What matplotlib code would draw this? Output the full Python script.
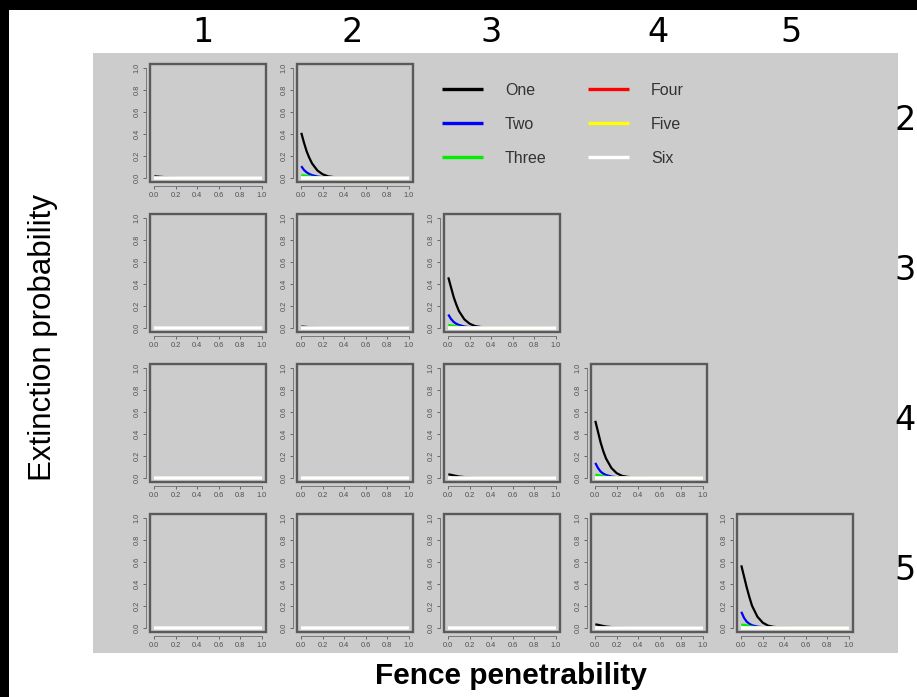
import matplotlib
matplotlib.use('Agg')
import matplotlib.pyplot as plt
from matplotlib.patches import Rectangle

plt.rcParams['font.family'] = ['Liberation Sans', 'DejaVu Sans']

W, H = 917, 697

# fence penetrability values where curves were read
pen = [0.0, 0.025, 0.05, 0.075, 0.1, 0.15, 0.2, 0.25, 0.3, 0.35, 0.4, 0.6, 0.8, 1.0]

fences = ['1', '2', '3', '4', '5']
corridors = ['2', '3', '4', '5']
series = ['One', 'Two', 'Three', 'Four', 'Five', 'Six']
colors = ['black', 'blue', '#00ee00', 'red', 'yellow', 'white']

zeros = [0, 0, 0, 0, 0, 0, 0, 0, 0, 0, 0, 0, 0, 0]

# corridor 2
one_f1c2 = [0.012, 0.01, 0.008, 0.006, 0.004, 0.002, 0.001, 0, 0, 0, 0, 0, 0, 0]
one_f2c2 = [0.41, 0.32, 0.24, 0.18, 0.13, 0.065, 0.03, 0.012, 0.005, 0.002, 0.001, 0, 0, 0]
two_f2c2 = [0.105, 0.07, 0.048, 0.033, 0.023, 0.01, 0.004, 0.001, 0, 0, 0, 0, 0, 0]
three_f2c2 = [0.022, 0.02, 0.017, 0.012, 0.007, 0.002, 0, 0, 0, 0, 0, 0, 0, 0]
# corridor 3
one_f2c3 = [0.01, 0.008, 0.006, 0.004, 0.003, 0.001, 0, 0, 0, 0, 0, 0, 0, 0]
one_f3c3 = [0.46, 0.37, 0.28, 0.21, 0.15, 0.075, 0.035, 0.014, 0.006, 0.002, 0.001, 0, 0, 0]
two_f3c3 = [0.12, 0.08, 0.052, 0.035, 0.024, 0.01, 0.004, 0.001, 0, 0, 0, 0, 0, 0]
three_f3c3 = [0.024, 0.021, 0.018, 0.012, 0.007, 0.002, 0, 0, 0, 0, 0, 0, 0, 0]
# corridor 4
one_f3c4 = [0.03, 0.026, 0.02, 0.015, 0.01, 0.005, 0.002, 0.001, 0, 0, 0, 0, 0, 0]
one_f4c4 = [0.52, 0.42, 0.32, 0.24, 0.175, 0.088, 0.04, 0.016, 0.007, 0.003, 0.001, 0, 0, 0]
two_f4c4 = [0.135, 0.088, 0.055, 0.036, 0.024, 0.01, 0.004, 0.001, 0, 0, 0, 0, 0, 0]
three_f4c4 = [0.026, 0.023, 0.019, 0.013, 0.008, 0.003, 0, 0, 0, 0, 0, 0, 0, 0]
# corridor 5
one_f4c5 = [0.03, 0.026, 0.02, 0.015, 0.01, 0.005, 0.002, 0.001, 0, 0, 0, 0, 0, 0]
one_f5c5 = [0.57, 0.47, 0.37, 0.28, 0.2, 0.1, 0.045, 0.018, 0.007, 0.003, 0.001, 0, 0, 0]
two_f5c5 = [0.145, 0.09, 0.055, 0.035, 0.022, 0.009, 0.003, 0.001, 0, 0, 0, 0, 0, 0]
three_f5c5 = [0.027, 0.025, 0.021, 0.015, 0.009, 0.003, 0, 0, 0, 0, 0, 0, 0, 0]

curves = {
    ('1', '2'): {'One': one_f1c2},
    ('2', '2'): {'One': one_f2c2, 'Two': two_f2c2, 'Three': three_f2c2},
    ('2', '3'): {'One': one_f2c3},
    ('3', '3'): {'One': one_f3c3, 'Two': two_f3c3, 'Three': three_f3c3},
    ('3', '4'): {'One': one_f3c4},
    ('4', '4'): {'One': one_f4c4, 'Two': two_f4c4, 'Three': three_f4c4},
    ('4', '5'): {'One': one_f4c5},
    ('5', '5'): {'One': one_f5c5, 'Two': two_f5c5, 'Three': three_f5c5},
}


def px_box(x, y, w, h):
    return [x / W, 1 - (y + h) / H, w / W, h / H]


fig = plt.figure(figsize=(W / 100, H / 100), dpi=100)
fig.patch.set_facecolor('white')

# grey panel behind the grid
fig.patches.append(Rectangle((93 / W, 1 - 653 / H), (898 - 93) / W, 600 / H,
                             transform=fig.transFigure, fc='#cccccc', ec='none', zorder=-1))
# black edges of the screenshot
fig.patches.append(Rectangle((0, 1 - 10 / H), 1, 10 / H, transform=fig.transFigure,
                             fc='black', ec='none', zorder=10))
fig.patches.append(Rectangle((0, 0), 9 / W, 1, transform=fig.transFigure,
                             fc='black', ec='none', zorder=10))

col_left = [150, 297, 444, 591, 737]
row_top = [64, 214, 364, 514]
ticks = [0.0, 0.2, 0.4, 0.6, 0.8, 1.0]
tick_labels = ['0.0', '0.2', '0.4', '0.6', '0.8', '1.0']

legend_lines = None
for i, c in enumerate(corridors):
    for j, f in enumerate(fences):
        if int(f) > int(c):
            continue
        ax = fig.add_axes(px_box(col_left[j], row_top[i], 116, 118))
        ax.patch.set_visible(False)
        lines = []
        for k, (s, col) in enumerate(zip(series, colors)):
            y = curves.get((f, c), {}).get(s, zeros)
            if s == 'Six':
                ln, = ax.plot(pen, y, color=col, lw=2.6, zorder=3, solid_capstyle='butt')
            else:
                ln, = ax.plot(pen, y, color=col, lw=1.6, zorder=2 + 0.1 * k,
                              solid_capstyle='butt')
            lines.append(ln)
        if (f, c) == ('2', '2'):
            legend_lines = lines
        ax.set_xlim(-0.04, 1.04)
        ax.set_ylim(-0.04, 1.04)
        for side in ['top', 'right']:
            ax.spines[side].set_visible(False)
        for side in ['left', 'bottom']:
            ax.spines[side].set_position(('outward', 3))
            ax.spines[side].set_bounds(0, 1)
            ax.spines[side].set_color('#777777')
            ax.spines[side].set_linewidth(0.7)
        ax.add_patch(Rectangle((0, 0), 1, 1, transform=ax.transAxes, fill=False,
                               ec='#5a5a5a', lw=1.7, clip_on=False, zorder=5))
        ax.set_xticks(ticks)
        ax.set_xticklabels(tick_labels)
        ax.set_yticks(ticks)
        ax.set_yticklabels(tick_labels, rotation=90, va='center')
        ax.tick_params(length=2.5, width=0.7, color='#666666', labelsize=5.3,
                       labelcolor='#505050', pad=1.5)

leg = fig.legend(legend_lines, series, loc='upper left',
                 bbox_to_anchor=(442 / W, 1 - 83 / H), ncol=2, frameon=False,
                 fontsize=11.5, handlelength=2.56, handletextpad=1.375,
                 columnspacing=2.6, labelspacing=1.18, borderpad=0, borderaxespad=0)
for t in leg.get_texts():
    t.set_color('#333333')
for ln in leg.get_lines():
    ln.set_linewidth(2.4)

# column and row headers
head_x = [203, 352, 491, 658, 791]
for f, x in zip(fences, head_x):
    fig.text(x / W, 1 - 33 / H, f, fontsize=24, ha='center', va='center',
             family=['Liberation Sans Narrow', 'DejaVu Sans'])
for c, y in zip(corridors, row_top):
    fig.text(916 / W, 1 - (y + 57) / H, c, fontsize=24, ha='right', va='center',
             family=['Liberation Sans Narrow', 'DejaVu Sans'])

fig.text(43 / W, 1 - 338 / H, 'Extinction probability', rotation=90, fontsize=22.5,
         ha='center', va='center')
fig.text(511 / W, 1 - 676 / H, 'Fence penetrability', fontsize=21.5, weight='bold',
         ha='center', va='center')

fig.savefig('out.png', dpi=100)
